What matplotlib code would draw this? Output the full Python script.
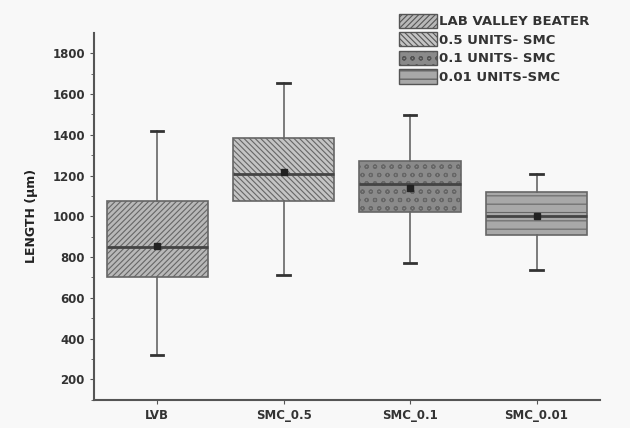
import numpy as np
import matplotlib
matplotlib.use("Agg")
import matplotlib.pyplot as plt
from matplotlib.patches import Patch

labels = ["LVB", "SMC_0.5", "SMC_0.1", "SMC_0.01"]
legend_names = ["LAB VALLEY BEATER", "0.5 UNITS- SMC", "0.1 UNITS- SMC", "0.01 UNITS-SMC"]
whislo = [320, 710, 770, 735]
q1 = [700, 1075, 1020, 910]
med = [850, 1210, 1160, 1000]
mean = [855, 1220, 1140, 1000]
q3 = [1075, 1385, 1270, 1120]
whishi = [1420, 1655, 1495, 1210]

hatches = ["//////", "\\\\\\\\\\\\", "oo", "--"]
faces = ["#b8b8b8", "#c4c4c4", "#8a8a8a", "#a8a8a8"]

plt.rcParams["font.family"] = ["DejaVu Sans"]
plt.rcParams["hatch.color"] = "#555555"
plt.rcParams["hatch.linewidth"] = 0.8

fig = plt.figure(figsize=(6.3, 4.28), dpi=100, facecolor="#f8f8f8")
ax = fig.add_axes([0.149, 0.066, 0.803, 0.857])
ax.set_facecolor("#f8f8f8")

stats = []
for i in range(len(labels)):
    stats.append(dict(label=labels[i], whislo=whislo[i], q1=q1[i], med=med[i],
                      q3=q3[i], whishi=whishi[i], mean=mean[i], fliers=[]))

bp = ax.bxp(stats, positions=[1, 2, 3, 4], widths=0.8, patch_artist=True,
            showmeans=True, showfliers=False,
            boxprops=dict(edgecolor="#666666", linewidth=1.2),
            whiskerprops=dict(color="#666666", linewidth=1.2),
            capprops=dict(color="#333333", linewidth=2.0),
            medianprops=dict(color="#444444", linewidth=2.0),
            meanprops=dict(marker="s", markerfacecolor="#222222",
                           markeredgecolor="#222222", markersize=4))
for cap in bp["caps"]:
    x = cap.get_xdata()
    c = x.mean()
    cap.set_xdata([c - 0.05, c + 0.05])
for patch, h, fc in zip(bp["boxes"], hatches, faces):
    patch.set_facecolor(fc)
    patch.set_hatch(h)

ax.set_xlim(0.5, 4.5)
ax.set_ylim(100, 1900)
ax.set_yticks(np.arange(200, 1801, 200))
ax.set_yticks(np.arange(100, 1900, 100), minor=True)
ax.set_xticks([1, 2, 3, 4])
ax.set_xticklabels(labels)
for s in ["top", "right"]:
    ax.spines[s].set_visible(False)
for s in ["left", "bottom"]:
    ax.spines[s].set_color("#555555")
    ax.spines[s].set_linewidth(1.5)
ax.tick_params(axis="both", colors="#555555", labelcolor="#333333", labelsize=8.5, length=3)
ax.tick_params(axis="y", which="minor", length=2, colors="#555555")
for t in ax.get_xticklabels() + ax.get_yticklabels():
    t.set_fontweight("bold")
ax.set_ylabel("LENGTH (μm)", fontsize=9, fontweight="bold", color="#222222", labelpad=10)

handles = [Patch(facecolor=fc, edgecolor="#555555", hatch=h) for h, fc in zip(hatches, faces)]
leg = fig.legend(handles, legend_names, loc="upper left", bbox_to_anchor=(0.618, 0.99),
                 frameon=False, fontsize=9.5, handlelength=2.9, handleheight=1.3,
                 handletextpad=0.15, labelspacing=0.3, borderpad=0.2)
for t in leg.get_texts():
    t.set_fontweight("bold")
    t.set_color("#333333")

fig.savefig("out.png", dpi=100, facecolor=fig.get_facecolor())
